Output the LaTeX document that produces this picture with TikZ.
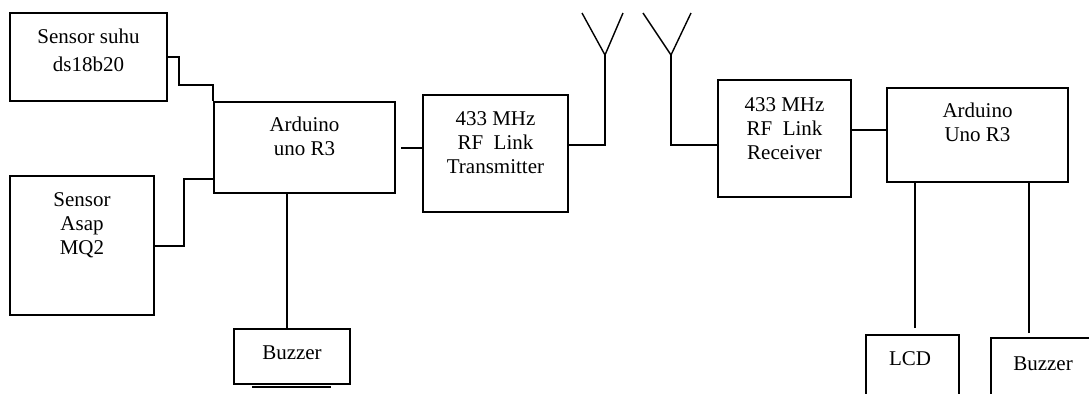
\documentclass[tikz,border=0pt]{standalone}
\usepackage{fontspec}
\setmainfont{Liberation Serif}
\usetikzlibrary{positioning,fit}

\begin{document}
\begin{tikzpicture}[x=0.5pt,y=-0.5pt,node distance=8.5pt,
    blok/.style={draw,line width=1pt,inner sep=0pt},
    teks/.style={align=center,inner sep=0pt,font=\fontsize{10.5}{12}\selectfont},
    kabel/.style={line width=1pt},
    tanduk/.style={line width=0.7pt}]

  \useasboundingbox (0,0) rectangle (1089,393);
  \clip (0,0) rectangle (1089,393);

  % Sisi pemancar
  \node[blok,fit={(10,13)(167,101)}] (suhu) {};
  \node[teks,below=of suhu.north] (tsuhu) {Sensor suhu\\[2pt]ds18b20};

  \node[blok,fit={(10,176)(154,315)}] (asap) {};
  \node[teks,below=of asap.north] (tasap) {Sensor\\Asap\\MQ2};

  \node[blok,fit={(214,102)(395,193)}] (ardA) {};
  \node[teks,below=8pt of ardA.north] (tardA) {Arduino\\uno R3};

  \node[blok,fit={(234,329)(350,384)}] (buzzA) {};
  \node[teks,below=of buzzA.north] (tbuzzA) {Buzzer};

  \node[blok,fit={(423,95)(568,212)}] (tx) {};
  \node[teks,below=of tx.north] (ttx) {433 MHz\\RF\ \ Link\\Transmitter};

  % Sisi penerima
  \node[blok,fit={(718,80)(851,197)}] (rx) {};
  \node[teks,below=9pt of rx.north] (trx) {433 MHz\\RF\ \ Link\\Receiver};

  \node[blok,fit={(887,88)(1068,182)}] (ardB) {};
  \node[teks,below=8pt of ardB.north] (tardB) {Arduino\\Uno R3};

  \node[blok,fit={(866,335)(959,420)}] (lcd) {};
  \node[teks,below=of lcd.north,xshift=-1.25pt] (tlcd) {LCD};

  \node[blok,fit={(991,338)(1095,420)}] (buzzB) {};
  \node[teks,below=9.5pt of buzzB.north] (tbuzzB) {Buzzer};

  % Antena
  \coordinate (antA) at (605,55);
  \coordinate (antB) at (671,55);

  % Kabel
  \draw[kabel] (suhu.east) -- ++(11,0) |- ([yshift=8pt]ardA.north west) -- (ardA.north west);
  \draw[kabel] (asap.east) -- ++(29,0) |- ([yshift=7.5pt]ardA.south west);
  \draw[kabel] ([xshift=-2.5pt]buzzA.north) -- ([xshift=-2.5pt]buzzA.north |- ardA.south);
  \draw[kabel] ([xshift=-20pt,yshift=-0.9pt]buzzA.south) -- ([xshift=19.5pt,yshift=-0.9pt]buzzA.south);
  \draw[kabel] ([xshift=2.5pt]ardA.east) -- (tx.west |- ardA.east);
  \draw[kabel] ([yshift=4.25pt]tx.east) -| (antA);
  \draw[tanduk] (antA) -- ++(-23,-42);
  \draw[tanduk] (antA) -- ++(18,-42);

  \draw[tanduk] (antB) -- ++(-28,-42);
  \draw[tanduk] (antB) -- ++(20,-42);
  \draw[kabel] (antB) |- ([yshift=-3.25pt]rx.west);
  \draw[kabel] ([yshift=2.5pt]ardB.west -| rx.east) -- ([yshift=2.5pt]ardB.west);
  \draw[kabel,shorten <=3pt] ([xshift=1.25pt]lcd.north) -- ([xshift=1.25pt]lcd.north |- ardB.south);
  \draw[kabel,shorten <=2pt] ([xshift=-7pt]buzzB.north) -- ([xshift=-7pt]buzzB.north |- ardB.south);
\end{tikzpicture}
\end{document}
